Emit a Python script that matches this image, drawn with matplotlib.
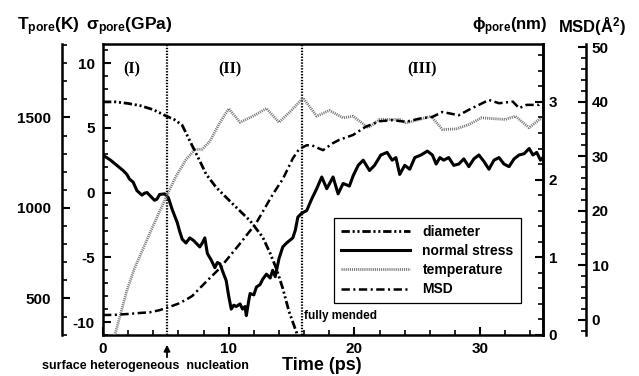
import matplotlib
matplotlib.use('Agg')
import matplotlib.pyplot as plt
from matplotlib.ticker import MultipleLocator

# ---- data ----
# normal stress (GPa), left inner axis
t_stress = [0.0, 0.3, 0.6, 1.1, 1.6, 1.9, 2.1, 2.4, 2.7, 3.1, 3.3, 3.5, 3.7, 4.1, 4.3, 4.5,
            4.9, 5.2, 5.5, 5.9, 6.1, 6.3, 6.6, 6.9, 7.2, 7.5, 7.7, 7.9, 8.1, 8.3, 8.6, 8.9,
            9.1, 9.3, 9.6, 9.8, 10.0, 10.2, 10.4, 10.6, 10.9, 11.1, 11.3, 11.4, 11.6, 11.7,
            12.0, 12.2, 12.5, 12.7, 13.0, 13.3, 13.5, 13.7, 14.0, 14.3, 14.6, 15.1, 15.3,
            15.5, 15.8, 16.2, 16.6, 17.0, 17.4, 17.8, 18.3, 18.7, 19.1, 19.6, 19.9, 20.3,
            20.7, 21.2, 21.6, 22.1, 22.6, 23.0, 23.3, 23.6, 24.0, 24.4, 24.8, 25.3, 25.8,
            26.2, 26.5, 26.8, 27.1, 27.5, 27.9, 28.3, 28.7, 29.1, 29.5, 29.9, 30.3, 30.7,
            31.1, 31.5, 31.9, 32.3, 32.7, 33.1, 33.5, 33.9, 34.2, 34.5, 34.8, 35.0]
stress = [2.85, 2.7, 2.5, 2.1, 1.7, 1.4, 1.05, 0.8, 0.15, -0.2, -0.05, 0.0, -0.2, -0.6, -0.5,
          -0.15, -0.1, -0.4, -1.3, -2.3, -3.0, -3.6, -3.9, -3.5, -3.7, -4.0, -4.2, -3.9, -3.5,
          -4.7, -5.2, -5.8, -5.4, -5.5, -6.3, -6.8, -8.0, -9.0, -8.7, -8.8, -8.6, -9.0, -8.8,
          -9.5, -8.3, -7.8, -7.9, -7.3, -7.1, -6.7, -6.3, -6.6, -6.0, -6.5, -5.1, -4.2, -3.9,
          -3.5, -2.9, -1.9, -1.6, -1.4, -0.5, 0.3, 1.2, 0.3, 1.2, -0.1, 0.7, 0.5, 1.3, 2.1,
          2.5, 1.7, 2.1, 2.9, 3.1, 2.5, 2.7, 1.4, 2.1, 1.8, 2.7, 2.9, 3.2, 2.9, 2.2, 2.7, 2.5,
          2.7, 2.1, 2.2, 2.6, 2.0, 2.6, 2.9, 2.4, 1.8, 2.5, 2.7, 2.2, 2.0, 2.6, 2.9, 3.0, 3.4,
          2.9, 3.1, 2.5, 2.7]

# pore temperature (K), left outer axis
t_temp = [0.8, 0.95, 1.9, 2.5, 3.5, 4.3, 5.1, 5.8, 6.6, 7.3, 7.9, 8.5, 9.2, 10.0, 10.9,
          12.0, 13.0, 14.0, 15.0, 15.8, 16.0, 17.0, 18.0, 19.1, 19.9, 21.1, 22.0, 23.6,
          24.1, 25.2, 26.1, 27.0, 28.1, 29.1, 30.1, 32.0, 32.8, 33.9, 34.7, 35.0]
temp = [250, 300, 544, 665, 824, 950, 1072, 1174, 1267, 1322, 1325, 1368, 1460, 1549, 1473,
        1510, 1550, 1473, 1540, 1600, 1600, 1507, 1539, 1498, 1507, 1443, 1489, 1489,
        1470, 1489, 1507, 1433, 1437, 1461, 1498, 1489, 1507, 1443, 1489, 1500]

# pore diameter (nm), right inner axis
t_diam = [0.0, 1.0, 2.0, 3.0, 4.0, 5.0, 5.7, 6.3, 6.9, 7.7, 8.2, 9.0, 10.3, 11.7, 12.7,
          13.3, 13.8, 14.3, 14.8, 15.4, 15.6]
diam = [3.0, 3.0, 2.98, 2.95, 2.9, 2.82, 2.77, 2.7, 2.5, 2.24, 2.07, 1.9, 1.69, 1.47, 1.26,
        1.05, 0.85, 0.6, 0.3, 0.03, -0.1]

# mean square displacement (A^2), right outer axis
t_msd = [0.0, 1.0, 2.0, 3.0, 3.7, 4.5, 5.3, 6.0, 6.6, 7.1, 8.2, 9.3, 10.9, 12.2, 13.5, 14.3,
         15.1, 15.6, 16.2, 16.6, 17.5, 18.3, 18.8, 19.9, 20.9, 22.0, 23.0, 24.1, 25.2, 26.2,
         27.0, 28.3, 29.1, 30.7, 31.5, 32.6, 33.1, 33.7, 34.7, 35.0]
msd = [0.9, 0.95, 1.1, 1.3, 1.4, 1.8, 2.4, 3.0, 3.7, 4.4, 7.0, 9.5, 14.0, 17.8, 23.0, 25.8,
       29.6, 31.3, 32.0, 32.0, 31.1, 32.4, 33.0, 33.9, 35.4, 36.4, 36.6, 36.3, 36.9, 37.2,
       38.1, 37.5, 38.5, 40.3, 39.7, 40.0, 38.8, 39.4, 39.4, 40.0]

stage_bounds = [5.1, 15.8]
stage_labels = ['(I)', '(II)', '(III)']
stage_x = [2.3, 10.1, 25.4]

plt.rcParams['font.family'] = ['Liberation Sans', 'DejaVu Sans']
plt.rcParams['font.weight'] = 'bold'
plt.rcParams['axes.unicode_minus'] = False
plt.rcParams['lines.scale_dashes'] = False
plt.rcParams['mathtext.fontset'] = 'custom'
plt.rcParams['mathtext.rm'] = 'Liberation Sans:bold'
plt.rcParams['mathtext.it'] = 'Liberation Sans:bold'
plt.rcParams['mathtext.bf'] = 'Liberation Sans:bold'

W, H = 639, 376
fig = plt.figure(figsize=(W / 100, H / 100), dpi=100)
ax = fig.add_axes([103 / W, 1 - 335 / H, 440 / W, 291 / H])
axT = ax.twinx()
axP = ax.twinx()
axM = ax.twinx()

tick_kw = dict(direction='in', width=1.5, labelsize=11)

# stress axis (main)
ax.set_xlim(0, 35)
ax.set_ylim(-11.0, 11.47)
ax.xaxis.set_major_locator(MultipleLocator(10))
ax.xaxis.set_minor_locator(MultipleLocator(2))
ax.yaxis.set_major_locator(MultipleLocator(5))
ax.yaxis.set_minor_locator(MultipleLocator(1))
ax.tick_params(axis='both', which='major', length=6, pad=6, **tick_kw)
ax.tick_params(axis='both', which='minor', length=3.5, direction='in', width=1.2)
ax.tick_params(axis='x', which='major', pad=5)
ax.tick_params(top=False, right=False, which='both')
for s in ax.spines.values():
    s.set_linewidth(1.8)

# temperature axis, outer left
axT.set_ylim(298, 1906)
axT.spines['left'].set_position(('outward', 29.5))
axT.yaxis.set_ticks_position('left')
for k in ['right', 'top', 'bottom']:
    axT.spines[k].set_visible(False)
axT.spines['left'].set_linewidth(1.8)
axT.yaxis.set_major_locator(MultipleLocator(500))
axT.yaxis.set_minor_locator(MultipleLocator(100))
axT.tick_params(which='major', length=6, pad=8, **tick_kw)
axT.tick_params(which='minor', length=3.5, direction='in', width=1.2)

# diameter axis, inner right
axP.set_ylim(0, 3.745)
for k in ['left', 'top', 'bottom']:
    axP.spines[k].set_visible(False)
axP.spines['right'].set_linewidth(1.8)
axP.yaxis.set_major_locator(MultipleLocator(1))
axP.yaxis.set_minor_locator(MultipleLocator(0.2))
axP.tick_params(which='major', length=6, pad=4, **tick_kw)
axP.tick_params(which='minor', length=3.5, direction='in', width=1.2)

# MSD axis, outer right
axM.set_ylim(-2.75, 50.55)
axM.spines['right'].set_position(('outward', 31))
for k in ['left', 'top', 'bottom']:
    axM.spines[k].set_visible(False)
axM.spines['right'].set_linewidth(1.8)
axM.yaxis.set_major_locator(MultipleLocator(10))
axM.yaxis.set_minor_locator(MultipleLocator(2))
axM.tick_params(which='major', length=6, pad=4, **tick_kw)
axM.tick_params(which='minor', length=3.5, direction='in', width=1.2)

# curves
l_diam, = axP.plot(t_diam, diam, color='black', lw=2.0, dashes=[6, 2, 1.5, 2, 1.5, 2],
                   label='diameter')
l_stress, = ax.plot(t_stress, stress, color='black', lw=2.2, label='normal stress')
l_temp, = axT.plot(t_temp, temp, color='#7a7a7a', lw=2.0, dashes=[0.8, 0.7],
                   label='temperature')
l_msd, = axM.plot(t_msd, msd, color='black', lw=1.8, dashes=[6, 2.5, 1.5, 2.5], label='MSD')

for xb in stage_bounds:
    ax.axvline(xb, color='black', lw=1.6, dashes=[1, 1.1])

for lab, xs in zip(stage_labels, stage_x):
    ax.text(xs, 9.5, lab, ha='center', va='center', fontsize=11.5, fontweight='bold',
            family=['Liberation Serif', 'DejaVu Serif'])

ax.text(15.95, -9.5, 'fully mended', ha='left', va='center', fontsize=8.5)

leg = axM.legend(handles=[l_diam, l_stress, l_temp, l_msd], loc='upper left',
                 bbox_to_anchor=(0.524, 0.402), borderaxespad=0, fancybox=False,
                 edgecolor='black', framealpha=1, prop={'size': 10, 'weight': 'bold'},
                 handlelength=5.0, handletextpad=0.9, labelspacing=0.37, borderpad=0.5)
leg.get_frame().set_linewidth(0.9)

fig.text(322 / W, 1 - 365 / H, 'Time (ps)', fontsize=13, fontweight='bold',
         ha='center', va='center')

# axis titles on top
fig.text(17 / W, 1 - 27 / H, r'$\mathrm{T_{pore}(K)}$', fontsize=12.5, va='center', ha='left')
fig.text(86 / W, 1 - 27 / H, r'$\mathrm{\sigma_{pore}(GPa)}$', fontsize=12.5, va='center', ha='left')
fig.text(472 / W, 1 - 27 / H, r'$\mathrm{\phi_{pore}(nm)}$', fontsize=12, va='center', ha='left')
fig.text(558 / W, 1 - 27 / H, r'$\mathrm{MSD(\AA^{2})}$', fontsize=12, va='center', ha='left')

fig.text(42 / W, 1 - 366 / H, 'surface heterogeneous  nucleation', fontsize=9,
         va='center', ha='left')
ax.annotate('', xy=(167, H - 342), xytext=(167, H - 360), xycoords='figure pixels',
            textcoords='figure pixels', annotation_clip=False,
            arrowprops=dict(arrowstyle='-|>', color='black', lw=1.3, mutation_scale=9))

fig.savefig('out.png', dpi=100)
